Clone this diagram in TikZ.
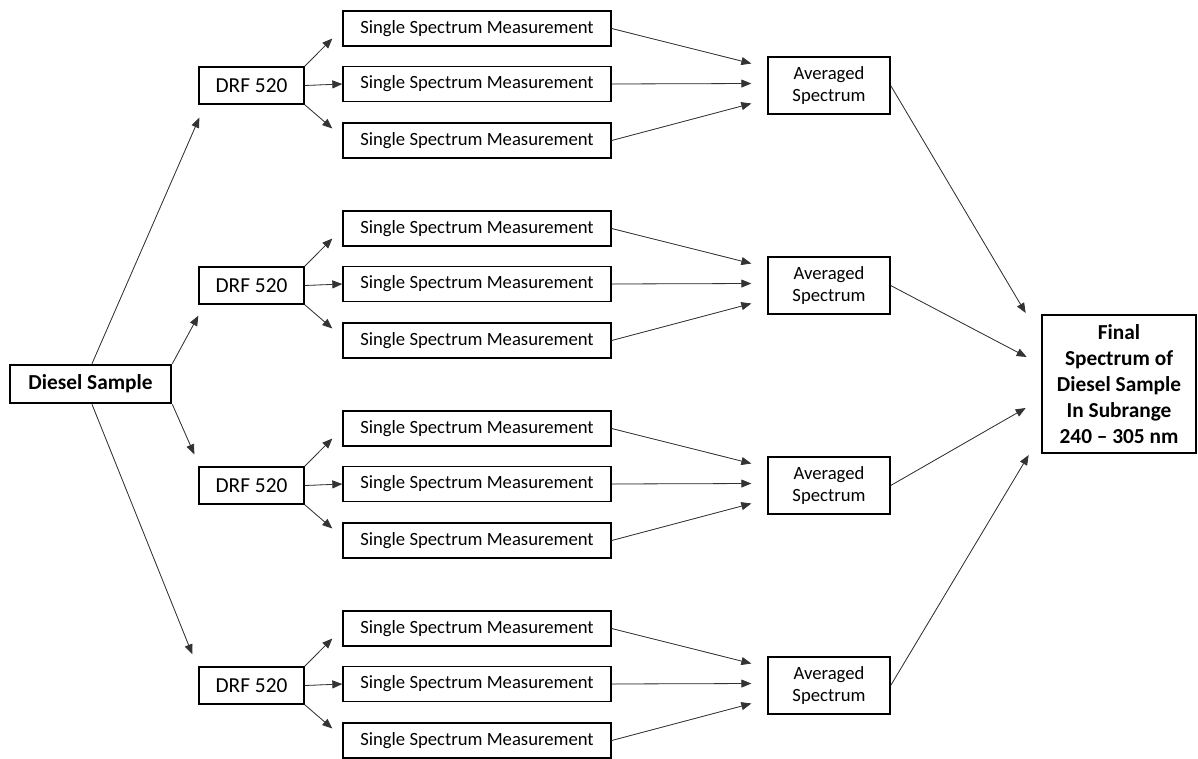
\documentclass[tikz,border=0pt]{standalone}
\usepackage{fontspec}
\setmainfont{Carlito}
\usetikzlibrary{arrows.meta,calc}
\begin{document}
\begin{tikzpicture}[x=0.75pt,y=-0.75pt,
  box/.style={draw,line width=1pt,inner sep=0pt,align=center},
  ssm/.style={box,minimum width=201pt,minimum height=26.25pt,font=\fontsize{14}{17}\selectfont},
  drf/.style={box,minimum width=78.75pt,minimum height=27.75pt,font=\fontsize{16}{19}\selectfont},
  avg/.style={box,minimum width=91.5pt,minimum height=42.75pt,font=\fontsize{14}{16.5}\selectfont},
  bigbox/.style={draw,line width=2pt,inner sep=0pt,align=center,font=\bfseries\fontsize{16}{19.5}\selectfont},
  conn/.style={-{Triangle[length=7.5pt,width=6pt]},line width=0.6pt,draw=black!80,fill=black}]
\useasboundingbox (0,0) rectangle (1198,758);
\node[bigbox,minimum width=120.75pt,minimum height=28.5pt] (ds) at (90.5,384) {Diesel Sample};
\node[bigbox,minimum width=115.5pt,minimum height=103.5pt] (fin) at (1119,384) {Final\\Spectrum of\\Diesel Sample\\In Subrange\\240 – 305 nm};
\foreach \g/\yy in {1/85.5,2/285.5,3/485.5,4/685.5}{
  \node[drf] (d\g) at (251.5,\yy) {DRF 520};
  \node[ssm] (s\g1) at (477,\yy-57) {Single Spectrum Measurement};
  \node[ssm] (s\g2) at (477,\yy-1.5) {Single Spectrum Measurement};
  \node[ssm] (s\g3) at (477,\yy+55) {Single Spectrum Measurement};
  \node[avg] (a\g) at (829,\yy) {Averaged\\Spectrum};
  \draw[conn] (d\g.north east) -- ($(s\g1.west)+(-10,10)$);
  \draw[conn] (d\g.east) -- (s\g2.west);
  \draw[conn] (d\g.south east) -- ($(s\g3.west)+(-10,-12)$);
  \draw[conn] (s\g1.east) -- ($(a\g.west)+(-16,-22)$);
  \draw[conn] (s\g2.east) -- ($(a\g.west)+(-16,-2)$);
  \draw[conn] (s\g3.east) -- ($(a\g.west)+(-16,18)$);
}
\draw[conn] ($(ds.north)+(1.5,0)$) -- ($(d1.south west)+(1,13)$);
\draw[conn] (ds.north east) -- ($(d2.south west)+(0,11)$);
\draw[conn] (ds.south east) -- ($(d3.north west)+(-4,-12)$);
\draw[conn] ($(ds.south)+(1.5,0)$) -- ($(d4.north west)+(-6,-12)$);
\draw[conn] (a1.east) -- ($(fin.west)+(-15,-71)$);
\draw[conn] (a2.east) -- ($(fin.west)+(-14,-27)$);
\draw[conn] (a3.east) -- ($(fin.west)+(-15,24)$);
\draw[conn] (a4.east) -- ($(fin.west)+(-12,71)$);
\end{tikzpicture}
\end{document}
